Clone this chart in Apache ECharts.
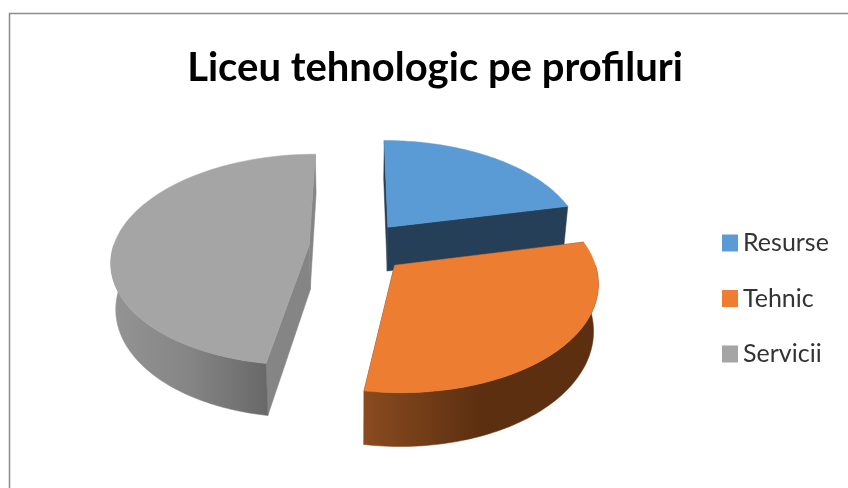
<!DOCTYPE html>
<html>
<head>
<meta charset="utf-8">
<script src="https://cdn.jsdelivr.net/npm/echarts@6/dist/echarts.min.js"></script>
<style>
  html, body { margin: 0; padding: 0; background: #fff; }
  #main { width: 848px; height: 488px; }
</style>
</head>
<body>
<div id="main"></div>
<script>
// date
const categories = ['Resurse', 'Tehnic', 'Servicii']
const values = [21.5, 31, 47.5]

const topColors = ['#5b9bd5', '#ed7d31', '#a5a5a5']
const faceColors = ['#243f57', '#5c3012', '#858585']
const wallStops = [
  ['#243f57', '#243f57', '#243f57'],
  ['#8a4b1f', '#5c2f10', '#5c2f10'],
  ['#949494', '#858585', '#686868']
]

// proiectia 3D
const CX = 358, CY = 247, RX = 196, RY = 104, PERSP = 0.14, DEPTH = 45, EXPLODE = 0.25, SHRINK = 0.02

const total = values.reduce((a, b) => a + b, 0)

function project (x, y, z) {
  const w = 1 + PERSP * y
  return [CX + RX * x / w * (1 - SHRINK * z), CY - RY * y / w + z * DEPTH / w]
}

function sliceShapes (idx) {
  const before = values.slice(0, idx).reduce((a, b) => a + b, 0)
  const start = before / total * Math.PI * 2
  const end = (before + values[idx]) / total * Math.PI * 2
  const mid = (start + end) / 2
  const ox = EXPLODE * Math.sin(mid)
  const oy = EXPLODE * Math.cos(mid)

  const arc = (from, to, z) => {
    const pts = []
    for (let i = 0; i <= 80; i++) {
      const t = from + (to - from) * i / 80
      pts.push(project(ox + Math.sin(t), oy + Math.cos(t), z))
    }
    return pts
  }
  const top = arc(start, end, 0)
  const cornerTop = project(ox, oy, 0)
  const cornerBottom = project(ox, oy, 1)
  const edge = (t, z) => project(ox + Math.sin(t), oy + Math.cos(t), z)

  const poly = (points, fill) => ({
    type: 'polygon',
    shape: { points: points },
    style: { fill: fill, stroke: fill, lineWidth: 0.5 }
  })
  const shapes = [
    poly([cornerTop, edge(start, 0), edge(start, 1), cornerBottom], faceColors[idx]),
    poly([cornerTop, edge(end, 0), edge(end, 1), cornerBottom], faceColors[idx])
  ]
  // doar partea din fata a peretelui exterior
  const wallFrom = Math.max(start, Math.PI / 2)
  const wallTo = Math.min(end, Math.PI * 1.5)
  if (wallTo > wallFrom) {
    shapes.push(poly(arc(wallFrom, wallTo, 0).concat(arc(wallFrom, wallTo, 1).reverse()), {
      type: 'linear', x: 0, y: 0, x2: 1, y2: 0,
      colorStops: [
        { offset: 0, color: wallStops[idx][0] },
        { offset: 0.5, color: wallStops[idx][1] },
        { offset: 1, color: wallStops[idx][2] }
      ]
    }))
  }
  shapes.push(poly([cornerTop].concat(top), topColors[idx]))
  return shapes
}

const series = categories.map((name, idx) => ({
  name: name,
  type: 'custom',
  coordinateSystem: 'none',
  z: idx === 1 ? 3 : 2,
  silent: true,
  itemStyle: { color: topColors[idx] },
  data: [[values[idx]]],
  renderItem: function () {
    return { type: 'group', children: sliceShapes(idx) }
  }
}))

const myChart = echarts.init(document.getElementById('main'), null, { renderer: 'canvas' })
myChart.setOption({
  animation: false,
  backgroundColor: '#fff',
  title: {
    text: 'Liceu tehnologic pe profiluri',
    left: 430,
    top: 43,
    textAlign: 'center',
    textStyle: {
      fontFamily: 'Lato, sans-serif',
      fontSize: 40,
      fontWeight: 'bold',
      color: '#000'
    }
  },
  legend: {
    orient: 'vertical',
    left: 717,
    top: 223,
    itemWidth: 16,
    itemHeight: 17,
    itemGap: 25.5,
    icon: 'rect',
    data: categories,
    textStyle: {
      fontFamily: 'Lato, sans-serif',
      fontSize: 25,
      lineHeight: 30,
      color: '#333'
    }
  },
  graphic: [{
    type: 'rect',
    silent: true,
    z: -1,
    shape: { x: 9.5, y: 13.5, width: 900, height: 600 },
    style: { fill: 'none', stroke: '#8c8c8c', lineWidth: 1.5 }
  }],
  series: series
})
</script>
</body>
</html>
